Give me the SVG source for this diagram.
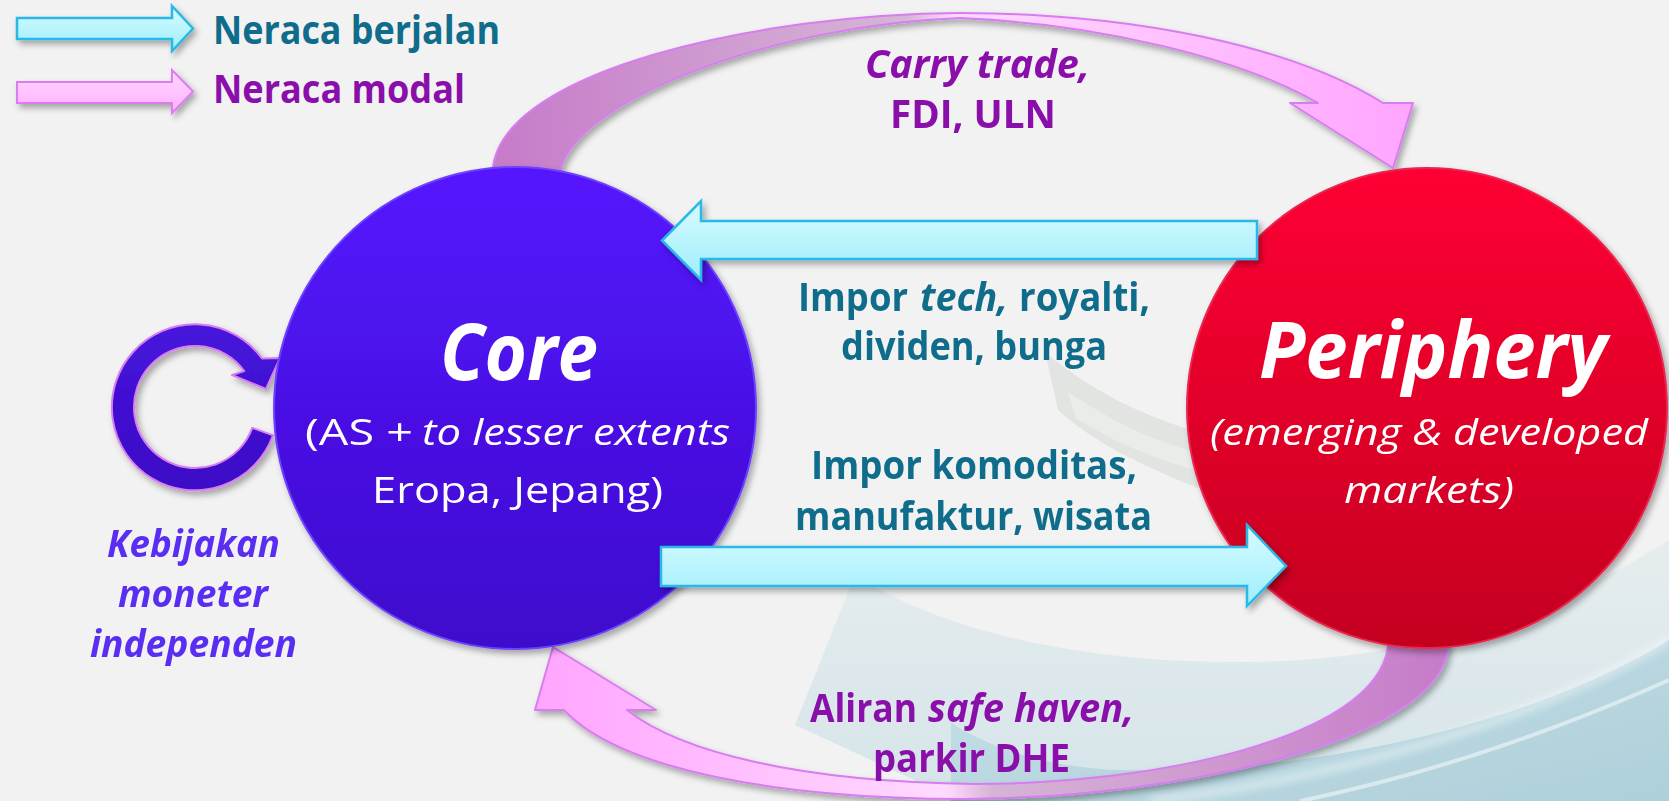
<svg xmlns="http://www.w3.org/2000/svg" width="1669" height="801" viewBox="0 0 1669 801">
  <defs>
    <linearGradient id="gCyan" x1="0" y1="0" x2="0" y2="1">
      <stop offset="0" stop-color="#D8FBFF"/>
      <stop offset="1" stop-color="#9DEEFC"/>
    </linearGradient>
    <linearGradient id="gPink" x1="0" y1="0" x2="0" y2="1">
      <stop offset="0" stop-color="#FFDAFF"/>
      <stop offset="1" stop-color="#FFAEFF"/>
    </linearGradient>
    <linearGradient id="gCore" x1="0" y1="0" x2="0" y2="1">
      <stop offset="0" stop-color="#5514FF"/>
      <stop offset="1" stop-color="#3E0ECC"/>
    </linearGradient>
    <linearGradient id="gPeri" x1="0" y1="0" x2="0" y2="1">
      <stop offset="0" stop-color="#FF0034"/>
      <stop offset="1" stop-color="#C4001F"/>
    </linearGradient>
    <linearGradient id="gLoop" x1="0" y1="0" x2="0" y2="1">
      <stop offset="0" stop-color="#4614DC"/>
      <stop offset="1" stop-color="#3B0CC6"/>
    </linearGradient>
    <linearGradient id="gTop" gradientUnits="userSpaceOnUse" x1="490" y1="0" x2="1420" y2="0">
      <stop offset="0" stop-color="#C67AC9"/>
      <stop offset="0.45" stop-color="#D6B6D6"/>
      <stop offset="0.5" stop-color="#FFDAFF"/>
      <stop offset="1" stop-color="#FFA4FF"/>
    </linearGradient>
    <linearGradient id="gBot" gradientUnits="userSpaceOnUse" x1="1455" y1="0" x2="530" y2="0">
      <stop offset="0" stop-color="#C67AC9"/>
      <stop offset="0.5" stop-color="#D6B4D6"/>
      <stop offset="0.55" stop-color="#FFDAFF"/>
      <stop offset="1" stop-color="#FFA4FF"/>
    </linearGradient>
    <linearGradient id="gHaze" x1="0" y1="0" x2="0" y2="1">
      <stop offset="0" stop-color="#E4ECEE"/>
      <stop offset="1" stop-color="#D2E3E8"/>
    </linearGradient>
    <linearGradient id="gTeal" x1="0" y1="0" x2="1" y2="1">
      <stop offset="0" stop-color="#C2DDE4"/>
      <stop offset="1" stop-color="#A6CCD8"/>
    </linearGradient>
    <filter id="shadow" x="-20%" y="-20%" width="140%" height="140%">
      <feDropShadow dx="3" dy="4" stdDeviation="3" flood-color="#000" flood-opacity="0.32"/>
    </filter>
    <filter id="soft" x="-20%" y="-20%" width="140%" height="140%">
      <feGaussianBlur stdDeviation="4"/>
    </filter>
  </defs>
  <style>
    .cyan { fill: url(#gCyan); stroke: #2AB8E6; stroke-width: 2.5; stroke-linejoin: miter; filter: url(#shadow); }
    .pink { fill: url(#gPink); stroke: #DC7CF0; stroke-width: 2; filter: url(#shadow); }
    .flow { stroke: #D77DF0; stroke-width: 2; stroke-linejoin: round; filter: url(#shadow); }
    .node { filter: url(#shadow); }
    text { font-family: "Open Sans", "Noto Sans", "DejaVu Sans", sans-serif; }
    .teal { fill: #0F6C8B; font-weight: 700; font-size: 40px; }
    .violet { fill: #8A0FAA; font-weight: 700; font-size: 40px; }
    .white { fill: #FFFFFF; }
    .big { font-size: 78px; font-weight: 700; font-style: italic; }
    .sub { font-size: 37px; }
    .policy { fill: #5A2DF2; font-weight: 700; font-style: italic; font-size: 37px; }
    .it { font-style: italic; }
  </style>

  <!-- page background -->
  <rect width="1669" height="801" fill="#F2F2F2"/>
  <g id="backdrop" opacity="0.9">
    <path d="M855 575 L795 725 L960 801 L1669 801 L1669 540 C1560 610 1420 660 1250 662 C1080 664 940 630 855 575 Z" fill="url(#gHaze)"/>
    <path d="M951 723 L951 801 L1669 801 L1669 640 C1540 720 1320 775 1120 770 C1050 768 990 748 951 723 Z" fill="url(#gTeal)"/>
    <path d="M1150 801 C1330 780 1540 720 1669 640" fill="none" stroke="#FFFFFF" stroke-width="6" opacity="0.6" filter="url(#soft)"/>
    <path d="M1300 801 C1450 770 1580 720 1669 680" fill="none" stroke="#FFFFFF" stroke-width="4" opacity="0.5"/>
    <path d="M1045 352 C1090 390 1140 415 1198 432 L1198 488 C1140 465 1090 440 1058 410 Z" fill="#DADFDA" opacity="0.85"/>
    <path d="M1068 392 C1110 420 1150 440 1196 452 L1196 470 C1150 458 1110 440 1076 418 Z" fill="#E8ECE8"/>
  </g>

  <!-- legend -->
  <g id="legend">
    <path class="cyan" d="M17 18 L172 18 L172 6 L193 28.5 L172 51 L172 39 L17 39 Z"/>
    <text class="teal" x="213" y="44" font-size="41" textLength="287" lengthAdjust="spacingAndGlyphs">Neraca berjalan</text>
    <path class="pink" d="M17 82 L172 82 L172 70 L193 91.5 L172 113 L172 103 L17 103 Z"/>
    <text class="violet" x="213" y="103" font-size="41" textLength="252" lengthAdjust="spacingAndGlyphs">Neraca modal</text>
  </g>

  <!-- flows between the two blocs -->
  <g id="connectors">
    <!-- capital account: core to periphery over the top -->
    <path class="flow" fill="url(#gTop)" d="M493 190 L493 167 C505 70 760 14 960 13 C1130 13 1290 45 1383 103 L1413 103 L1393 168 L1290 103 L1318 103 C1240 58 1100 24 960 18 C780 25 585 95 561 167 L561 190 Z"/>
    <!-- capital account: periphery back to core along the bottom -->
    <path class="flow" fill="url(#gBot)" d="M1448 620 L1448 647 C1440 740 1180 798 965 799 C780 799 620 770 564 710 L535 710 L553 647 L656 710 L627 710 C680 752 800 782 975 784 C1150 784 1375 740 1388 647 L1388 620 Z"/>
    <!-- monetary policy loop -->
    <path class="flow" fill="url(#gLoop)" stroke="#5A30F0" stroke-width="1.5" d="M273 435.4 A83 83 0 1 1 262 358.5 L280 358 L266 389 L232 375 L244.3 371.1 A61 61 0 1 0 252.3 427.9 Z"/>
  </g>

  <!-- nodes -->
  <g id="core" class="node">
    <circle cx="515" cy="408" r="241" fill="url(#gCore)" stroke="#6C42FF" stroke-width="2"/>
  </g>
  <g id="periphery" class="node">
    <circle cx="1427" cy="408" r="240" fill="url(#gPeri)" stroke="#E8284F" stroke-width="2"/>
  </g>

  <!-- current account arrows -->
  <g id="current-flows">
    <path class="cyan" d="M1257 221 L701 221 L701 201 L662 240.5 L701 280 L701 259 L1257 259 Z"/>
    <path class="cyan" d="M661 547 L1247 547 L1247 525 L1286 566 L1247 606 L1247 586 L661 586 Z"/>
  </g>

  <!-- node labels -->
  <g id="core-label">
    <text class="white big" x="440" y="380" textLength="158" lengthAdjust="spacingAndGlyphs">Core</text>
    <text class="white sub" x="305" y="445" textLength="108" lengthAdjust="spacingAndGlyphs">(AS +</text>
    <text class="white sub it" x="422" y="445" textLength="308" lengthAdjust="spacingAndGlyphs">to lesser extents</text>
    <text class="white sub" x="372" y="503" textLength="291" lengthAdjust="spacingAndGlyphs">Eropa, Jepang)</text>
  </g>
  <g id="periphery-label">
    <text class="white big" x="1259" y="378" textLength="348" lengthAdjust="spacingAndGlyphs">Periphery</text>
    <text class="white sub it" x="1210" y="445" textLength="438" lengthAdjust="spacingAndGlyphs">(emerging &amp; developed</text>
    <text class="white sub it" x="1344" y="503" textLength="170" lengthAdjust="spacingAndGlyphs">markets)</text>
  </g>

  <!-- flow labels -->
  <g id="flow-labels">
    <text class="violet it" x="865" y="78" textLength="225" lengthAdjust="spacingAndGlyphs">Carry trade,</text>
    <text class="violet" x="890" y="128" textLength="166" lengthAdjust="spacingAndGlyphs">FDI, ULN</text>
    <text class="teal" x="798" y="311" textLength="110" lengthAdjust="spacingAndGlyphs">Impor</text>
    <text class="teal it" x="920" y="311" textLength="88" lengthAdjust="spacingAndGlyphs">tech,</text>
    <text class="teal" x="1019" y="311" textLength="131" lengthAdjust="spacingAndGlyphs">royalti,</text>
    <text class="teal" x="841" y="360" textLength="266" lengthAdjust="spacingAndGlyphs">dividen, bunga</text>
    <text class="teal" x="811" y="479" textLength="326" lengthAdjust="spacingAndGlyphs">Impor komoditas,</text>
    <text class="teal" x="795" y="530" textLength="357" lengthAdjust="spacingAndGlyphs">manufaktur, wisata</text>
    <text class="violet" x="810" y="722" textLength="107" lengthAdjust="spacingAndGlyphs">Aliran</text>
    <text class="violet it" x="928" y="722" textLength="206" lengthAdjust="spacingAndGlyphs">safe haven,</text>
    <text class="violet" x="873" y="772" textLength="197" lengthAdjust="spacingAndGlyphs">parkir DHE</text>
  </g>

  <g id="policy-label">
    <text class="policy" x="107" y="557" textLength="173" lengthAdjust="spacingAndGlyphs">Kebijakan</text>
    <text class="policy" x="118" y="607" textLength="150" lengthAdjust="spacingAndGlyphs">moneter</text>
    <text class="policy" x="90" y="657" textLength="207" lengthAdjust="spacingAndGlyphs">independen</text>
  </g>
</svg>
